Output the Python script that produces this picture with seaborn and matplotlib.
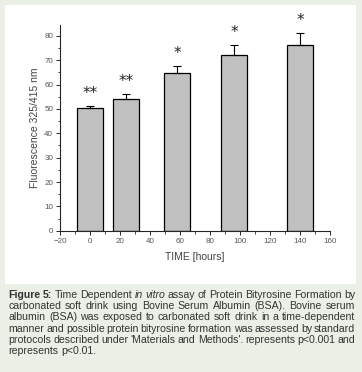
import matplotlib
matplotlib.use("Agg")
import matplotlib.pyplot as plt
import seaborn as sns
import numpy as np
from matplotlib.ticker import MultipleLocator

# values
times = [0, 24, 58, 96, 140]
fluorescence = [50.4, 54.1, 64.8, 72.2, 76.3]
errors = [0.9, 2.0, 3.0, 4.2, 4.9]
stars = ['**', '**', '*', '*', '*']

caption_lines = [
    [("Figure 5:", "bold"), ("Time Dependent", "normal"), ("in vitro", "italic"),
     ("assay of Protein Bityrosine Formation by", "normal")],
    [("carbonated soft drink using Bovine Serum Albumin (BSA). Bovine serum", "normal")],
    [("albumin (BSA) was exposed to carbonated soft drink in a time-dependent", "normal")],
    [("manner and possible protein bityrosine formation was assessed by standard", "normal")],
    [("protocols described under 'Materials and Methods'. represents p<0.001 and", "normal")],
    [("represents p<0.01.", "normal")],
]

sns.set_style("ticks")
plt.rcParams['font.family'] = ['Liberation Sans', 'DejaVu Sans']

W, H = 362, 372
fig = plt.figure(figsize=(W / 100, H / 100), dpi=100)
fig.patch.set_facecolor('#ebf0e6')

# white panel behind the chart
panel = plt.Rectangle((5 / W, 1 - 284 / H), 351 / W, 279 / H, transform=fig.transFigure,
                      facecolor='white', edgecolor='none', zorder=-5)
fig.patches.append(panel)

ax = fig.add_axes([60 / W, 1 - 230.7 / H, 270 / W, 205.7 / H])
ax.set_facecolor('none')
ax.set_zorder(2)

bar_w = 17.5 / np.min(np.diff(times))
sns.barplot(x=times, y=fluorescence, native_scale=True, width=bar_w, color='#c0c0c0',
            saturation=1, edgecolor='black', linewidth=0.9, errorbar=None, ax=ax)
ax.errorbar(times, fluorescence, yerr=[np.zeros(len(errors)), errors], fmt='none',
            ecolor='black', elinewidth=0.8, capsize=3, capthick=0.8)

for t, v, e, s in zip(times, fluorescence, errors, stars):
    ax.text(t, v + e + 2.0, s, ha='center', va='bottom', fontsize=11,
            family='DejaVu Sans', color='#222222')

ax.set_xlim(-20, 160)
ax.set_ylim(0, 84.5)
ax.xaxis.set_major_locator(MultipleLocator(20))
ax.xaxis.set_minor_locator(MultipleLocator(10))
ax.yaxis.set_major_locator(MultipleLocator(10))
ax.yaxis.set_minor_locator(MultipleLocator(5))
ax.tick_params(which='major', length=3, width=0.7, labelsize=5.8, labelcolor='#555555', pad=2)
ax.tick_params(which='minor', length=1.8, width=0.6)
sns.despine(ax=ax)
for sp in ['left', 'bottom']:
    ax.spines[sp].set_linewidth(0.8)
ax.set_xlabel('TIME [hours]', fontsize=7.5, color='#444444', labelpad=5)
ax.set_ylabel('Fluorescence 325/415 nm', fontsize=7.5, color='#444444', labelpad=3)

# justified caption
fig.canvas.draw()
renderer = fig.canvas.get_renderer()
left, right = 8.5, 355
line_y = [295, 306.2, 317.4, 328.6, 339.8, 351]
fs = 7.6
for i, parts in enumerate(caption_lines):
    words = []
    for txt, style in parts:
        for w in txt.split(' '):
            words.append((w, style))
    artists = []
    total = 0
    for w, style in words:
        kw = dict(fontsize=fs, color='#333333', va='center', ha='left')
        if style == 'bold':
            kw['fontweight'] = 'bold'
        if style == 'italic':
            kw['fontstyle'] = 'italic'
        a = fig.text(0, 1 - line_y[i] / H, w, **kw)
        wd = a.get_window_extent(renderer).width
        artists.append((a, wd))
        total += wd
    last = i == len(caption_lines) - 1
    space = 2.5 if last else (right - left - total) / max(len(artists) - 1, 1)
    x = left
    for a, wd in artists:
        a.set_x(x / W)
        x += wd + space

fig.savefig('out.png', dpi=100, facecolor=fig.get_facecolor())
